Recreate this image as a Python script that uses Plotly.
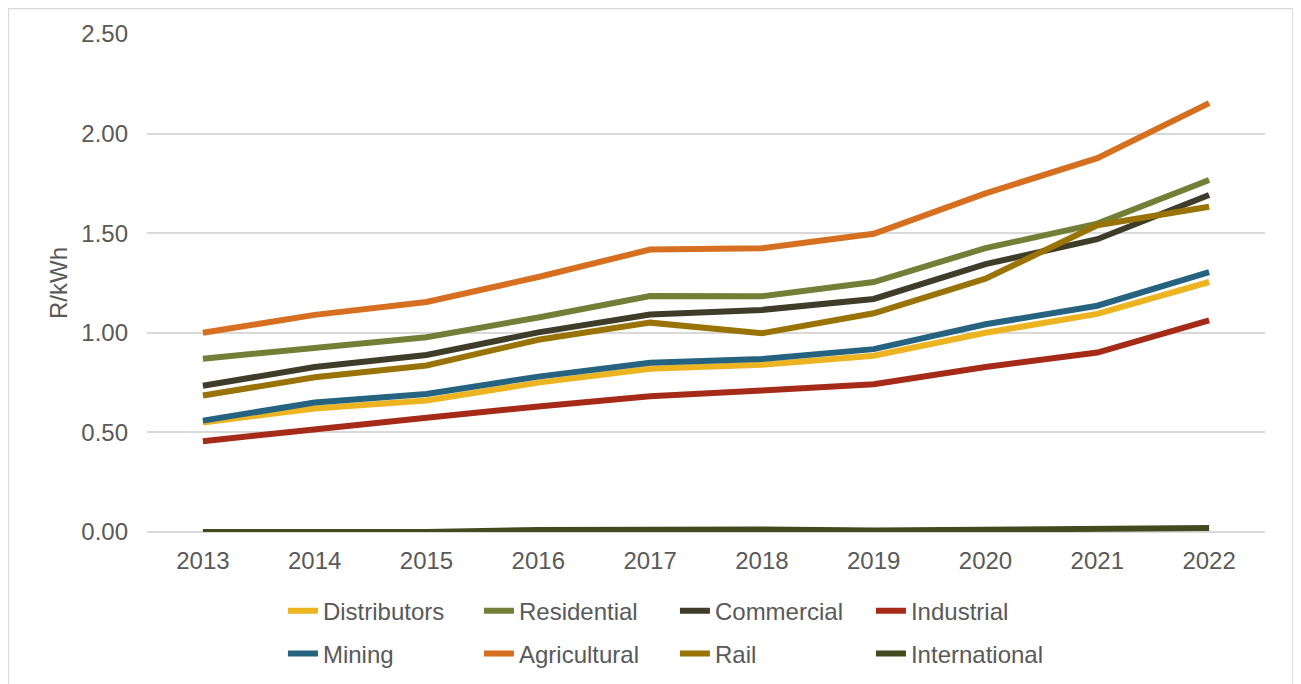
"""
Electricity price by customer category, R/kWh, 2013-2022.
"""

import plotly.graph_objects as go

years = ['2013', '2014', '2015', '2016', '2017', '2018', '2019', '2020', '2021', '2022']

distributors = [0.55, 0.62, 0.66, 0.75, 0.82, 0.84, 0.885, 1.00, 1.095, 1.255]
residential = [0.87, 0.923, 0.978, 1.077, 1.185, 1.183, 1.255, 1.425, 1.548, 1.767]
commercial = [0.734, 0.828, 0.889, 1.002, 1.092, 1.115, 1.17, 1.345, 1.47, 1.692]
industrial = [0.456, 0.518, 0.574, 0.63, 0.682, 0.71, 0.742, 0.828, 0.901, 1.062]
mining = [0.559, 0.65, 0.693, 0.78, 0.85, 0.869, 0.918, 1.043, 1.136, 1.304]
agricultural = [1.00, 1.09, 1.155, 1.28, 1.418, 1.424, 1.497, 1.70, 1.877, 2.153]
rail = [0.685, 0.777, 0.836, 0.965, 1.051, 0.998, 1.098, 1.272, 1.54, 1.633]
international = [0.0, 0.0, 0.0, 0.01, 0.012, 0.012, 0.008, 0.012, 0.015, 0.02]

series = [
    ('Distributors', distributors, '#EDB422', 'legend'),
    ('Residential', residential, '#737F37', 'legend'),
    ('Commercial', commercial, '#3F3D2A', 'legend'),
    ('Industrial', industrial, '#A52A17', 'legend'),
    ('Mining', mining, '#266380', 'legend2'),
    ('Agricultural', agricultural, '#D66F1F', 'legend2'),
    ('Rail', rail, '#9A7307', 'legend2'),
    ('International', international, '#434A20', 'legend2'),
]

FONT = 'Liberation Sans, Arial, sans-serif'
TEXT_COLOR = '#595959'
GRID_COLOR = '#D9D9D9'
FONT_SIZE = 24

fig = go.Figure()

for name, values, color, legend in series:
    fig.add_trace(go.Scatter(
        x=years,
        y=values,
        name=name,
        mode='lines',
        line=dict(color=color, width=6),
        legend=legend,
    ))

legend_style = dict(
    orientation='h',
    xanchor='left',
    yanchor='middle',
    x=0.1216,
    entrywidth=151,
    font=dict(family=FONT, size=FONT_SIZE, color=TEXT_COLOR),
    bgcolor='rgba(0,0,0,0)',
    traceorder='normal',
)

# the page body adds an 8px offset, so the figure is 8px smaller than the window
fig.update_layout(
    width=1293,
    height=676,
    margin=dict(l=139, r=36, t=26, b=152, autoexpand=False),
    paper_bgcolor='white',
    plot_bgcolor='white',
    font=dict(family=FONT, size=FONT_SIZE, color=TEXT_COLOR),
    legend=dict(legend_style, y=-0.159),
    legend2=dict(legend_style, y=-0.245),
    xaxis=dict(
        type='category',
        range=[-0.5, 9.5],
        showgrid=False,
        showline=False,
        zeroline=False,
        ticks='',
        ticklabelstandoff=12,
        tickfont=dict(family=FONT, size=FONT_SIZE, color=TEXT_COLOR),
    ),
    yaxis=dict(
        range=[0, 2.5],
        dtick=0.5,
        tickformat='.2f',
        showgrid=True,
        gridcolor=GRID_COLOR,
        gridwidth=1.5,
        zeroline=True,
        zerolinecolor=GRID_COLOR,
        zerolinewidth=1.5,
        ticks='',
        ticklabelstandoff=18,
        tickfont=dict(family=FONT, size=FONT_SIZE, color=TEXT_COLOR),
        title=dict(text='R/kWh', font=dict(family=FONT, size=FONT_SIZE, color=TEXT_COLOR), standoff=6),
    ),
    shapes=[dict(
        type='rect', xref='paper', yref='paper',
        x0=-0.124, x1=1.025, y0=-0.33, y1=1.0512,
        line=dict(color='#D9D9D9', width=1.5),
        fillcolor='rgba(0,0,0,0)',
        layer='below',
    )],
)

fig.write_html("out.html")
